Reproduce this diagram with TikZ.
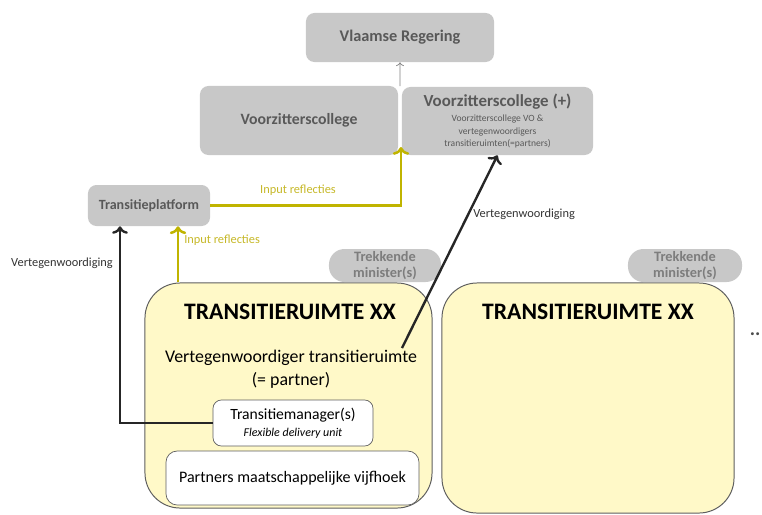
\documentclass[tikz,border=0pt]{standalone}
\usepackage{fontspec}
\setmainfont{Carlito}
\usetikzlibrary{arrows.meta, positioning, calc}

\definecolor{boxgray}{RGB}{200,200,200}
\definecolor{txtgray}{RGB}{89,89,89}
\definecolor{mingray}{RGB}{125,125,125}
\definecolor{yline}{RGB}{192,180,0}
\definecolor{ytext}{RGB}{198,184,40}
\definecolor{trfill}{RGB}{255,249,200}
\definecolor{trdraw}{RGB}{95,95,95}

\newcommand{\vsmall}{\fontsize{6.8}{8.6}\selectfont\mdseries}

\begin{document}
\begin{tikzpicture}[x=0.025cm, y=-0.025cm,
    graybox/.style={fill=boxgray, rounded corners=6pt, text=txtgray, align=center, inner sep=0pt},
    minbox/.style={graybox, rounded corners=11pt, text=mingray, font=\fontsize{10.2}{11.4}\selectfont\bfseries},
    trbox/.style={fill=trfill, draw=trdraw, line width=0.7pt, rounded corners=25pt, inner sep=0pt},
    whitebox/.style={fill=white, draw=trdraw, line width=0.5pt, rounded corners=6pt, align=center, inner sep=0pt},
    inarrow/.style={->, yline, line width=1.8pt},
    reparrow/.style={->, black!85, line width=1.7pt},
    lbl/.style={font=\fontsize{8.8}{10}\selectfont, inner sep=0pt}
]
    \useasboundingbox (0,0) rectangle (762,514);

    % Top level
    \node[graybox, minimum width=4.7cm, minimum height=1.225cm, font=\fontsize{11.6}{13}\selectfont\bfseries]
        (vr) at (400,37.5) {Vlaamse Regering};
    \node[graybox, minimum width=4.95cm, minimum height=1.725cm, font=\fontsize{11.2}{13}\selectfont\bfseries]
        (vc) at (299,120.5) {Voorzitterscollege};
    \node[graybox, minimum width=4.775cm, minimum height=1.7cm, font=\fontsize{12}{9}\selectfont\bfseries]
        (vcp) at (497.5,121) {Voorzitterscollege (+)\\[2pt]
        \vsmall Voorzitterscollege VO \&\\\vsmall vertegenwoordigers\\\vsmall transitieruimten(=partners)};
    \draw[->, gray, line width=0.5pt] ($(vc.north east)!0.5!(vcp.north west)$) -- (vr.south);

    % Transitieplatform
    \node[graybox, minimum width=3.05cm, minimum height=1.025cm, font=\fontsize{10}{12}\selectfont\bfseries]
        (tp) at (149,205.5) {Transitieplatform};
    \coordinate (vgap) at (401,147);
    \draw[inarrow] (tp.east) -| (vgap);
    \node[lbl, text=ytext] (ir1) at (298,190) {Input reflecties};

    % Transitieruimten
    \node[trbox, minimum width=7.175cm, minimum height=5.625cm] (tr1) at (288.5,395.5) {};
    \node[trbox, minimum width=7.3cm, minimum height=5.75cm] (tr2) at (588,398) {};
    \node[minbox, minimum width=2.8cm, minimum height=0.825cm] (tm1) at (385,265.5) {Trekkende\\minister(s)};
    \node[minbox, minimum width=2.85cm, minimum height=0.825cm] (tm2) at (685,265.5) {Trekkende\\minister(s)};
    \node[font=\fontsize{16.8}{18}\selectfont\bfseries, inner sep=0pt] (tt1) at (290,312) {TRANSITIERUIMTE XX};
    \node[font=\fontsize{16.8}{18}\selectfont\bfseries, inner sep=0pt] (tt2) at (588,312) {TRANSITIERUIMTE XX};
    \node[font=\fontsize{12.7}{16.4}\selectfont, align=center, inner sep=0pt]
        (vtr) at (291,369) {Vertegenwoordiger transitieruimte\\(= partner)};
    \node[whitebox, minimum width=4cm, minimum height=1.15cm, font=\fontsize{11.1}{12}\selectfont]
        (tman) at (293,423) {Transitiemanager(s)\\\fontsize{8.5}{10}\selectfont\itshape Flexible delivery unit};
    \node[whitebox, rounded corners=8pt, minimum width=6.325cm, minimum height=1.35cm, font=\fontsize{11.4}{13}\selectfont]
        (pmv) at (292.5,478) {Partners maatschappelijke vijfhoek};
    \node[font=\fontsize{14}{14}\selectfont\bfseries, text=black!70, inner sep=0pt] (more) at (755,334) {..};

    % Input from transitieruimte
    \coordinate (tpr) at ($(tp.south)+(29,0)$);
    \draw[inarrow] (tpr |- tr1.north) -- (tpr);
    \node[lbl, text=ytext, anchor=west] (ir2) at (184,240) {Input reflecties};

    % Vertegenwoordiging
    \coordinate (tpl) at ($(tp.south)+(-29,0)$);
    \draw[reparrow] (tman.west) -| (tpl);
    \node[lbl, text=black!80] (vg1) at (62,263) {Vertegenwoordiging};
    \coordinate (vstart) at (402,348);
    \draw[reparrow] (vstart) -- (vcp.south);
    \node[lbl, text=black!80, anchor=west] (vg2) at (473,214) {Vertegenwoordiging};
\end{tikzpicture}
\end{document}
